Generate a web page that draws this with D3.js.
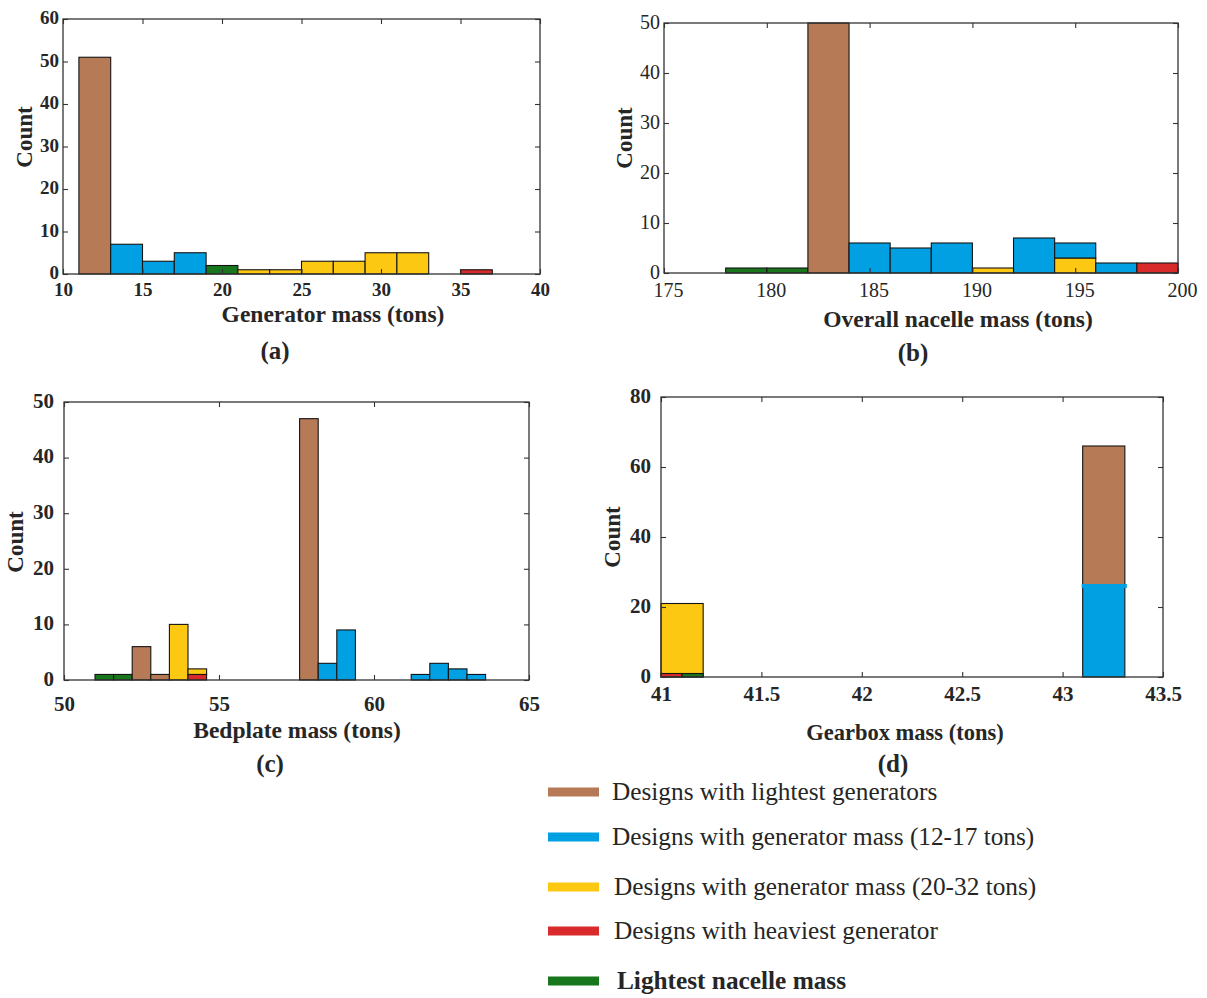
<!DOCTYPE html>
<html>
<head>
<meta charset="utf-8">
<script src="https://cdn.jsdelivr.net/npm/d3@7"></script>
<style>
  body { margin: 0; background: #ffffff; }
  svg text { font-family: "Liberation Serif", "Times New Roman", serif; fill: #262626; }
</style>
</head>
<body>
<svg id="chart" width="1207" height="998"></svg>
<script>
// ---- series ----
const seriesKeys = ["lightest", "gen12to17", "gen20to32", "heaviest", "lightNacelle"];
const seriesLabels = [
  "Designs with lightest generators",
  "Designs with generator mass (12-17 tons)",
  "Designs with generator mass (20-32 tons)",
  "Designs with heaviest generator",
  "Lightest nacelle mass"
];
const seriesColors = ["#b77a57", "#00a0e2", "#fdc812", "#d82a2a", "#18761d"];

// ---- histogram bins: [bin start, bin end, series, count from, count to] ----
const generatorBins = [
  [11, 13, "lightest", 0, 51],
  [13, 15, "gen12to17", 0, 7],
  [15, 17, "gen12to17", 0, 3],
  [17, 19, "gen12to17", 0, 5],
  [19, 21, "lightNacelle", 0, 2],
  [21, 23, "gen20to32", 0, 1],
  [23, 25, "gen20to32", 0, 1],
  [25, 27, "gen20to32", 0, 3],
  [27, 29, "gen20to32", 0, 3],
  [29, 31, "gen20to32", 0, 5],
  [31, 33, "gen20to32", 0, 5],
  [35, 37, "heaviest", 0, 1]
];

const nacelleBins = [
  [178, 180, "lightNacelle", 0, 1],
  [180, 182, "lightNacelle", 0, 1],
  [182, 184, "lightest", 0, 50],
  [184, 186, "gen12to17", 0, 6],
  [186, 188, "gen12to17", 0, 5],
  [188, 190, "gen12to17", 0, 6],
  [190, 192, "gen20to32", 0, 1],
  [192, 194, "gen12to17", 0, 7],
  [194, 196, "gen20to32", 0, 3],
  [194, 196, "gen12to17", 3, 6],
  [196, 198, "gen12to17", 0, 2],
  [198, 200, "heaviest", 0, 2]
];

const bedplateBins = [
  [51.0, 51.6, "lightNacelle", 0, 1],
  [51.6, 52.2, "lightNacelle", 0, 1],
  [52.2, 52.8, "lightest", 0, 6],
  [52.8, 53.4, "lightest", 0, 1],
  [53.4, 54.0, "gen20to32", 0, 10],
  [54.0, 54.6, "heaviest", 0, 1],
  [54.0, 54.6, "gen20to32", 1, 2],
  [57.6, 58.2, "lightest", 0, 47],
  [58.2, 58.8, "gen12to17", 0, 3],
  [58.8, 59.4, "gen12to17", 0, 9],
  [61.2, 61.8, "gen12to17", 0, 1],
  [61.8, 62.4, "gen12to17", 0, 3],
  [62.4, 63.0, "gen12to17", 0, 2],
  [63.0, 63.6, "gen12to17", 0, 1]
];

const gearboxBins = [
  [41.0, 41.21, "gen20to32", 0, 21],
  [41.0, 41.105, "heaviest", 0, 1],
  [41.105, 41.21, "lightNacelle", 0, 1],
  [43.1, 43.31, "gen12to17", 0, 26],
  [43.1, 43.31, "lightest", 26, 66]
];

// ---- axis ticks ----
const generatorTicksX = [10, 15, 20, 25, 30, 35, 40];
const generatorTicksY = [0, 10, 20, 30, 40, 50, 60];
const nacelleTicksX = [175, 180, 185, 190, 195, 200];
const nacelleTicksY = [0, 10, 20, 30, 40, 50];
const bedplateTicksX = [50, 55, 60, 65];
const bedplateTicksY = [0, 10, 20, 30, 40, 50];
const gearboxTicksX = [41, 41.5, 42, 42.5, 43, 43.5];
const gearboxTicksY = [0, 20, 40, 60, 80];

const colorOf = d3.scaleOrdinal().domain(seriesKeys).range(seriesColors);
const svg = d3.select("#chart");

function drawPanel(cfg) {
  const x = d3.scaleLinear().domain([cfg.xTicks[0], cfg.xTicks[cfg.xTicks.length - 1]])
    .range([cfg.left, cfg.right]);
  const y = d3.scaleLinear().domain([cfg.yTicks[0], cfg.yTicks[cfg.yTicks.length - 1]])
    .range([cfg.bottom, cfg.top]);
  const g = svg.append("g");
  const weight = cfg.boldTicks ? "bold" : "normal";

  // bars
  g.selectAll("rect.bar").data(cfg.bins).join("rect")
    .attr("class", "bar")
    .attr("x", d => x(d[0]))
    .attr("width", d => x(d[1]) - x(d[0]))
    .attr("y", d => y(d[4]))
    .attr("height", d => y(d[3]) - y(d[4]))
    .attr("fill", d => colorOf(d[2]))
    .attr("stroke", "#141414")
    .attr("stroke-width", 1.1);

  // thick edge where a segment is stacked on another one
  if (cfg.stackEdge) {
    g.selectAll("line.edge").data(cfg.bins.filter(d => d[3] > 0)).join("line")
      .attr("x1", d => x(d[0]) - 1).attr("x2", d => x(d[1]) + 2)
      .attr("y1", d => y(d[3])).attr("y2", d => y(d[3]))
      .attr("stroke", colorOf("gen12to17")).attr("stroke-width", 4);
  }

  // frame
  g.append("rect")
    .attr("x", cfg.left).attr("y", cfg.top)
    .attr("width", cfg.right - cfg.left).attr("height", cfg.bottom - cfg.top)
    .attr("fill", "none").attr("stroke", "#333").attr("stroke-width", 1.3);

  const style = sel => {
    sel.select(".domain").remove();
    sel.selectAll(".tick line").attr("stroke", "#333").attr("stroke-width", 1.1);
    sel.selectAll(".tick text")
      .style("font-family", '"Liberation Serif", "Times New Roman", serif')
      .style("font-size", cfg.tickSize + "px")
      .style("font-weight", weight)
      .attr("fill", cfg.boldTicks ? "#262626" : "#3a3a3a");
  };

  g.append("g").attr("transform", `translate(0,${cfg.bottom})`)
    .call(d3.axisBottom(x).tickValues(cfg.xTicks).tickSize(-5).tickPadding(cfg.xPad)
      .tickFormat(d3.format("")))
    .call(style)
    .call(sel => sel.selectAll(".tick text").attr("dx", cfg.xShift || 0));
  g.append("g").attr("transform", `translate(0,${cfg.top})`)
    .call(d3.axisTop(x).tickValues(cfg.xTicks).tickSize(-5).tickFormat(""))
    .call(style);
  g.append("g").attr("transform", `translate(${cfg.left},0)`)
    .call(d3.axisLeft(y).tickValues(cfg.yTicks).tickSize(-5).tickPadding(cfg.yPad))
    .call(style)
    .call(sel => sel.selectAll(".tick text").attr("dy", "0.25em"));
  g.append("g").attr("transform", `translate(${cfg.right},0)`)
    .call(d3.axisRight(y).tickValues(cfg.yTicks).tickSize(-5).tickFormat(""))
    .call(style);

  // titles
  g.append("text")
    .attr("transform", `translate(${cfg.countX},${cfg.countY}) rotate(-90)`)
    .attr("text-anchor", "middle").attr("dy", "0.35em")
    .style("font-size", "23px").style("font-weight", "bold")
    .text("Count");
  g.append("text")
    .attr("x", cfg.titleX).attr("y", cfg.titleY)
    .attr("text-anchor", "middle")
    .style("font-size", cfg.titleSize + "px").style("font-weight", "bold")
    .text(cfg.title);
  g.append("text")
    .attr("x", cfg.tagX).attr("y", cfg.tagY)
    .attr("text-anchor", "middle")
    .style("font-size", "25px").style("font-weight", "bold")
    .text(cfg.tag);
}

drawPanel({
  bins: generatorBins, xTicks: generatorTicksX, yTicks: generatorTicksY,
  left: 63, right: 540, top: 19, bottom: 274, boldTicks: true, tickSize: 19,
  xPad: 9, yPad: 4,
  countX: 24, countY: 137, title: "Generator mass (tons)", titleX: 333, titleY: 322, titleSize: 23.5,
  tag: "(a)", tagX: 275, tagY: 359
});

drawPanel({
  bins: nacelleBins, xTicks: nacelleTicksX, yTicks: nacelleTicksY,
  left: 664, right: 1178, top: 23, bottom: 273, boldTicks: false, tickSize: 20,
  xPad: 10, yPad: 4, xShift: 4,
  countX: 624, countY: 138, title: "Overall nacelle mass (tons)", titleX: 958, titleY: 327, titleSize: 23.5,
  tag: "(b)", tagX: 913, tagY: 361
});

drawPanel({
  bins: bedplateBins, xTicks: bedplateTicksX, yTicks: bedplateTicksY,
  left: 64, right: 529, top: 402, bottom: 680, boldTicks: true, tickSize: 21,
  xPad: 16, yPad: 10,
  countX: 15, countY: 542, title: "Bedplate mass (tons)", titleX: 297, titleY: 738, titleSize: 23.5,
  tag: "(c)", tagX: 270, tagY: 772
});

drawPanel({
  bins: gearboxBins, xTicks: gearboxTicksX, yTicks: gearboxTicksY,
  left: 661, right: 1163, top: 397, bottom: 677, boldTicks: true, tickSize: 21,
  xPad: 9, yPad: 10, stackEdge: true,
  countX: 612, countY: 537, title: "Gearbox mass (tons)", titleX: 905, titleY: 740, titleSize: 22.5,
  tag: "(d)", tagX: 893, tagY: 772
});

// ---- legend ----
const legendRows = [792, 837, 887, 931, 981];
const legendTextX = [612, 612, 614, 614, 617];
const legend = svg.append("g");
seriesKeys.forEach((k, i) => {
  legend.append("rect")
    .attr("x", 548).attr("y", legendRows[i] - 4.5)
    .attr("width", 51).attr("height", 9)
    .attr("fill", colorOf(k));
  legend.append("text")
    .attr("x", legendTextX[i]).attr("y", legendRows[i]).attr("dy", "0.33em")
    .style("font-size", "25.3px")
    .style("font-weight", i === 4 ? "bold" : "normal")
    .attr("fill", "#1a1a1a")
    .text(seriesLabels[i]);
});
</script>
</body>
</html>
